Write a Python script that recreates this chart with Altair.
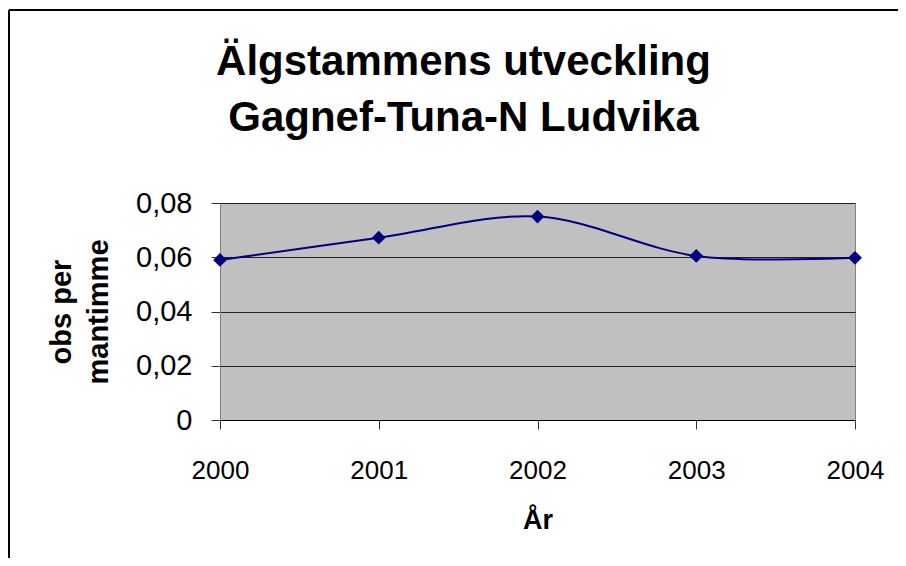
import altair as alt
import pandas as pd

years = [2000, 2001, 2002, 2003, 2004]
obs_per_mantimme = [0.0590, 0.0672, 0.0750, 0.0605, 0.0598]

df = pd.DataFrame({"År": years, "obs": obs_per_mantimme})

FONT = "Liberation Sans"
W, H = 635, 217

x_enc = alt.X(
    "År:Q",
    scale=alt.Scale(domain=[2000, 2004], nice=False, zero=False),
    axis=alt.Axis(
        title="År", values=years, format="d", grid=False,
        labelFontSize=26, labelFont=FONT, labelColor="black", labelPadding=28,
        titleFontSize=27, titleFont=FONT, titleFontWeight="bold", titleColor="black",
        titlePadding=24, tickSize=9, tickColor="#333", domainColor="#000",
        labelFlush=False,
    ),
)
y_enc = alt.Y(
    "obs:Q",
    scale=alt.Scale(domain=[0, 0.08], nice=False),
    axis=alt.Axis(
        title=["obs per", "mantimme"], values=[0, 0.02, 0.04, 0.06, 0.08],
        labelExpr="datum.value == 0 ? '0' : replace(format(datum.value, '.2f'), '.', ',')",
        labelFontSize=29, labelFont=FONT, labelColor="black", labelPadding=19,
        titleFontSize=29, titleFont=FONT, titleFontWeight="bold", titleColor="black",
        titleLineHeight=37, titlePadding=22, tickSize=9, tickColor="#333",
        domainColor="#808080",
        grid=True, gridColor="#222", gridWidth=1, gridOpacity=1,
    ),
)

base = alt.Chart(df)

line = base.mark_line(color="#000080", strokeWidth=2, interpolate="catmull-rom").encode(x=x_enc, y=y_enc)
pts = base.mark_point(shape="diamond", filled=True, color="#000080", size=190, opacity=1).encode(x="År:Q", y="obs:Q")

frame_df = pd.DataFrame({"a": [0]})
top_edge = alt.Chart(frame_df).mark_rule(color="black", strokeWidth=2).encode(
    x=alt.value(-211), x2=alt.value(700), y=alt.value(-193)
)
left_edge = alt.Chart(frame_df).mark_rule(color="black", strokeWidth=2).encode(
    x=alt.value(-211), y=alt.value(-193), y2=alt.value(400)
)

chart = alt.layer(top_edge, left_edge, line, pts).properties(
    width=W, height=H,
    autosize=alt.AutoSizeParams(type="none"),
    padding={"left": 212, "top": 195, "right": 43, "bottom": 138},
    title=alt.TitleParams(
        text=["Älgstammens utveckling", "Gagnef-Tuna-N Ludvika"],
        font=FONT, fontSize=42, fontWeight="bold", color="black",
        anchor="middle", dx=-74, dy=181, offset=50, lineHeight=56,
    ),
).configure_view(
    fill="#C0C0C0", stroke="#808080", strokeWidth=1
)

chart.save("out.html", embed_options={"renderer": "svg", "actions": False})
